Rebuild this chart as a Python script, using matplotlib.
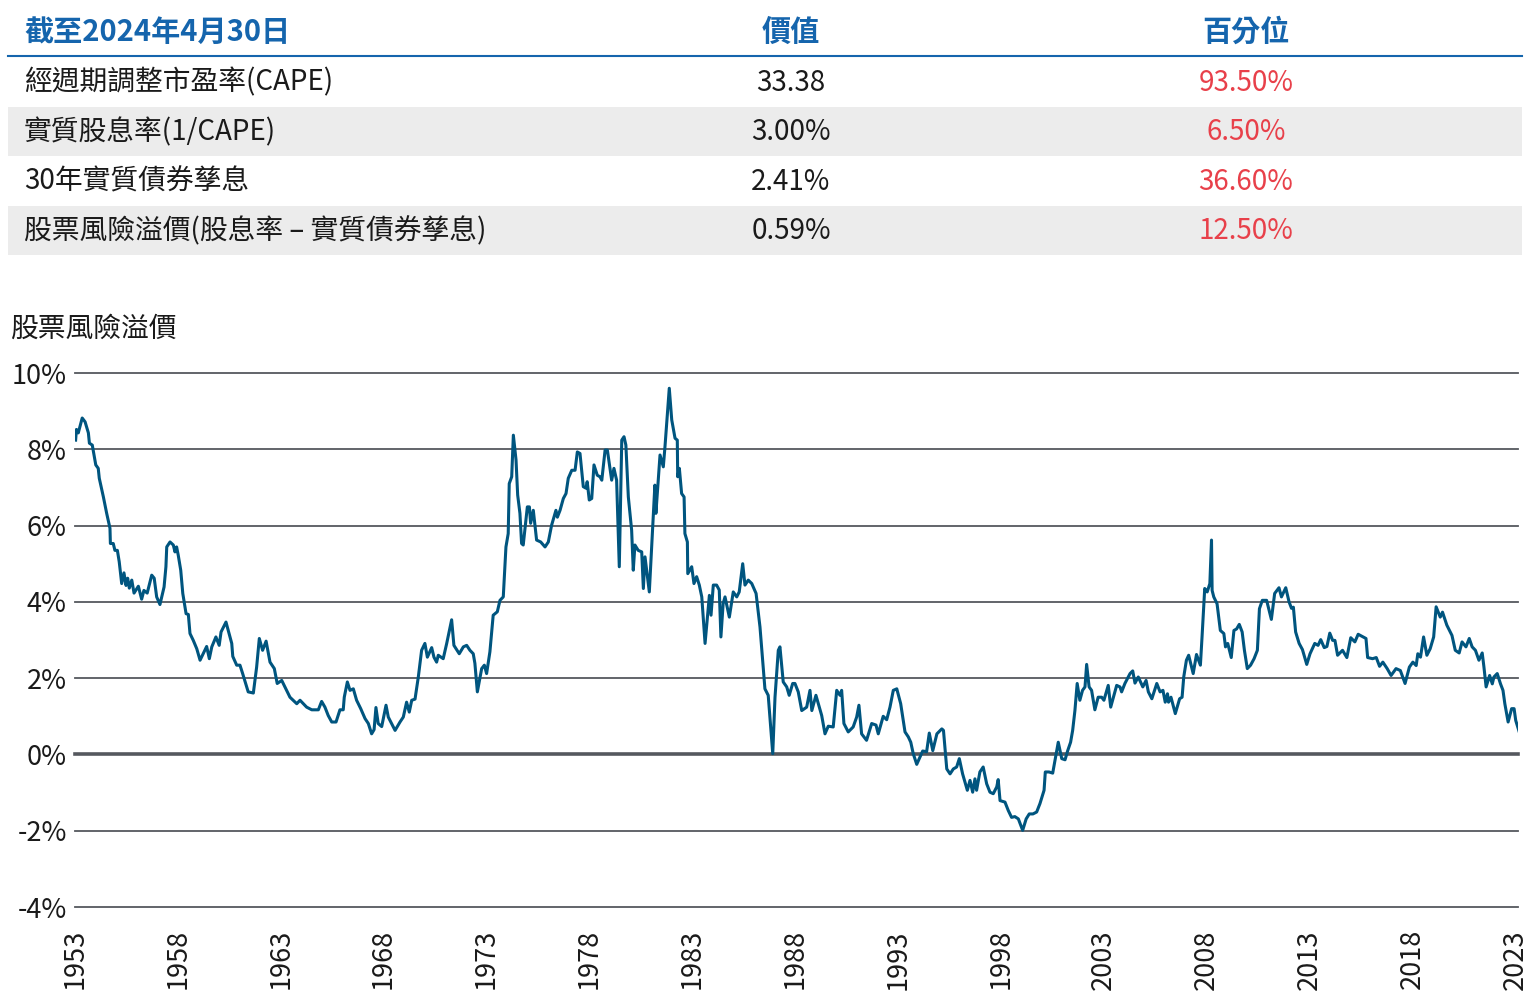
import matplotlib
matplotlib.use('Agg')
import matplotlib.pyplot as plt
from matplotlib.patches import Rectangle

plt.rcParams['font.family'] = ['Noto Sans CJK TC', 'DejaVu Sans']

# summary table
table_title = '截至2024年4月30日'
col_headers = ['價值', '百分位']
row_labels = ['經週期調整市盈率(CAPE)', '實質股息率(1/CAPE)', '30年實質債券孳息',
              '股票風險溢價(股息率 – 實質債券孳息)']
row_values = ['33.38', '3.00%', '2.41%', '0.59%']
row_pcts = ['93.50%', '6.50%', '36.60%', '12.50%']

# equity risk premium (%)
years = [1953.03, 1953.07, 1953.16, 1953.35, 1953.49, 1953.65, 1953.70, 1953.84, 1954.01, 1954.13,
         1954.18, 1954.38, 1954.54, 1954.70, 1954.72, 1954.86, 1954.94, 1955.06, 1955.15, 1955.27,
         1955.38, 1955.48, 1955.56, 1955.64, 1955.76, 1955.87, 1956.08, 1956.24, 1956.35, 1956.51,
         1956.73, 1956.85, 1956.97, 1957.13, 1957.33, 1957.42, 1957.46, 1957.62, 1957.78, 1957.86,
         1957.94, 1958.02, 1958.14, 1958.24, 1958.40, 1958.51, 1958.59, 1958.75, 1958.92, 1959.08,
         1959.40, 1959.53, 1959.65, 1959.85, 1960.01, 1960.10, 1960.34, 1960.62, 1960.67, 1960.86,
         1961.02, 1961.15, 1961.42, 1961.67, 1961.83, 1961.96, 1962.12, 1962.29, 1962.48, 1962.69,
         1962.83, 1963.05, 1963.45, 1963.78, 1963.94, 1964.26, 1964.51, 1964.83, 1964.99, 1965.15,
         1965.31, 1965.48, 1965.69, 1965.88, 1966.04, 1966.09, 1966.24, 1966.37, 1966.53, 1966.69,
         1966.89, 1967.10, 1967.26, 1967.42, 1967.54, 1967.63, 1967.74, 1967.91, 1968.12, 1968.23,
         1968.56, 1968.80, 1968.96, 1969.12, 1969.25, 1969.37, 1969.53, 1969.69, 1969.85, 1970.01,
         1970.13, 1970.34, 1970.45, 1970.58, 1970.66, 1970.90, 1971.07, 1971.31, 1971.42, 1971.68,
         1971.88, 1972.04, 1972.20, 1972.36, 1972.44, 1972.56, 1972.77, 1972.90, 1973.01, 1973.17,
         1973.33, 1973.53, 1973.66, 1973.82, 1973.95, 1974.06, 1974.11, 1974.23, 1974.31, 1974.44,
         1974.52, 1974.63, 1974.71, 1974.79, 1974.99, 1975.09, 1975.15, 1975.28, 1975.44, 1975.64,
         1975.85, 1976.01, 1976.17, 1976.38, 1976.45, 1976.58, 1976.74, 1976.87, 1976.98, 1977.15,
         1977.31, 1977.42, 1977.55, 1977.71, 1977.84, 1977.90, 1978.00, 1978.12, 1978.23, 1978.39,
         1978.52, 1978.61, 1978.77, 1978.88, 1979.09, 1979.20, 1979.33, 1979.46, 1979.58, 1979.69,
         1979.78, 1979.90, 1980.06, 1980.14, 1980.22, 1980.38, 1980.55, 1980.63, 1980.71, 1980.92,
         1981.19, 1981.24, 1981.44, 1981.60, 1981.68, 1981.89, 1982.01, 1982.17, 1982.28, 1982.30,
         1982.38, 1982.49, 1982.61, 1982.65, 1982.77, 1982.79, 1982.98, 1983.09, 1983.22, 1983.35,
         1983.47, 1983.63, 1983.84, 1983.92, 1984.03, 1984.19, 1984.32, 1984.40, 1984.51, 1984.60,
         1984.81, 1985.00, 1985.17, 1985.29, 1985.46, 1985.57, 1985.73, 1985.90, 1986.11, 1986.30,
         1986.54, 1986.70, 1986.92, 1987.03, 1987.19, 1987.27, 1987.43, 1987.60, 1987.72, 1987.89,
         1988.00, 1988.16, 1988.33, 1988.57, 1988.73, 1988.82, 1989.02, 1989.30, 1989.46, 1989.62,
         1989.86, 1990.03, 1990.19, 1990.27, 1990.38, 1990.59, 1990.83, 1991.00, 1991.11, 1991.24,
         1991.48, 1991.73, 1991.94, 1992.05, 1992.29, 1992.46, 1992.62, 1992.78, 1992.95, 1993.14,
         1993.35, 1993.51, 1993.63, 1993.75, 1993.92, 1994.08, 1994.21, 1994.40, 1994.53, 1994.70,
         1994.90, 1995.14, 1995.22, 1995.38, 1995.54, 1995.70, 1995.86, 1995.99, 1996.15, 1996.27,
         1996.38, 1996.51, 1996.64, 1996.75, 1996.83, 1996.99, 1997.15, 1997.32, 1997.48, 1997.64,
         1997.81, 1997.88, 1997.97, 1998.21, 1998.37, 1998.53, 1998.69, 1998.86, 1999.07, 1999.24,
         1999.39, 1999.57, 1999.75, 1999.91, 2000.11, 2000.17, 2000.35, 2000.53, 2000.64, 2000.80,
         2000.97, 2001.13, 2001.26, 2001.40, 2001.50, 2001.61, 2001.72, 2001.85, 2001.98, 2002.10,
         2002.18, 2002.30, 2002.42, 2002.58, 2002.74, 2002.91, 2003.02, 2003.23, 2003.35, 2003.48,
         2003.64, 2003.80, 2003.88, 2004.04, 2004.29, 2004.42, 2004.53, 2004.69, 2004.91, 2005.07,
         2005.18, 2005.35, 2005.59, 2005.75, 2005.89, 2006.00, 2006.11, 2006.16, 2006.28, 2006.49,
         2006.70, 2006.82, 2006.90, 2007.03, 2007.14, 2007.36, 2007.52, 2007.71, 2007.79, 2007.92,
         2008.04, 2008.17, 2008.25, 2008.28, 2008.36, 2008.52, 2008.68, 2008.85, 2008.93, 2009.04,
         2009.21, 2009.34, 2009.47, 2009.60, 2009.74, 2009.85, 2009.99, 2010.15, 2010.32, 2010.48,
         2010.58, 2010.72, 2010.93, 2011.16, 2011.32, 2011.53, 2011.65, 2011.86, 2012.02, 2012.14,
         2012.23, 2012.34, 2012.51, 2012.67, 2012.75, 2012.88, 2013.04, 2013.27, 2013.43, 2013.56,
         2013.73, 2013.86, 2014.00, 2014.14, 2014.25, 2014.38, 2014.62, 2014.83, 2015.02, 2015.22,
         2015.38, 2015.55, 2015.76, 2015.84, 2016.08, 2016.26, 2016.42, 2016.58, 2016.79, 2016.98,
         2017.22, 2017.43, 2017.66, 2017.87, 2018.04, 2018.20, 2018.28, 2018.41, 2018.56, 2018.72,
         2018.88, 2019.05, 2019.17, 2019.37, 2019.48, 2019.69, 2019.94, 2020.10, 2020.29, 2020.43,
         2020.62, 2020.78, 2020.92, 2021.08, 2021.25, 2021.41, 2021.49, 2021.60, 2021.77, 2021.90,
         2021.98, 2022.14, 2022.30, 2022.42, 2022.51, 2022.67, 2022.84, 2022.96, 2023.04, 2023.21]
erp = [8.24, 8.52, 8.43, 8.82, 8.72, 8.43, 8.16, 8.11, 7.59, 7.50,
       7.24, 6.75, 6.32, 5.93, 5.53, 5.53, 5.35, 5.35, 5.05, 4.48,
       4.76, 4.43, 4.62, 4.36, 4.57, 4.23, 4.41, 4.07, 4.30, 4.23,
       4.70, 4.62, 4.13, 3.93, 4.39, 4.92, 5.44, 5.57, 5.49, 5.31,
       5.44, 5.22, 4.83, 4.22, 3.69, 3.67, 3.17, 2.99, 2.77, 2.47,
       2.83, 2.51, 2.82, 3.08, 2.86, 3.21, 3.47, 2.91, 2.57, 2.34,
       2.34, 2.12, 1.64, 1.61, 2.29, 3.04, 2.73, 2.97, 2.42, 2.25,
       1.86, 1.94, 1.50, 1.33, 1.42, 1.24, 1.17, 1.17, 1.39, 1.24,
       1.02, 0.85, 0.85, 1.17, 1.17, 1.50, 1.90, 1.68, 1.72, 1.42,
       1.20, 0.94, 0.81, 0.54, 0.65, 1.23, 0.81, 0.73, 1.29, 0.98,
       0.63, 0.85, 0.98, 1.37, 1.11, 1.42, 1.45, 2.03, 2.73, 2.91,
       2.55, 2.80, 2.55, 2.42, 2.60, 2.51, 2.91, 3.53, 2.86, 2.64,
       2.82, 2.86, 2.73, 2.64, 2.39, 1.64, 2.25, 2.34, 2.12, 2.69,
       3.65, 3.74, 4.04, 4.13, 5.44, 5.79, 7.10, 7.28, 8.37, 7.72,
       6.80, 6.32, 5.53, 5.49, 6.49, 6.49, 6.06, 6.40, 5.62, 5.57,
       5.44, 5.57, 6.01, 6.40, 6.22, 6.40, 6.71, 6.84, 7.24, 7.45,
       7.45, 7.93, 7.89, 7.02, 6.98, 7.15, 6.67, 6.71, 7.59, 7.32,
       7.28, 7.19, 7.98, 7.98, 7.19, 7.50, 7.19, 4.92, 8.24, 8.33,
       8.11, 6.75, 5.88, 4.83, 5.49, 5.35, 5.31, 4.35, 5.18, 4.26,
       7.06, 6.32, 7.85, 7.54, 8.06, 9.60, 8.77, 8.29, 8.24, 7.28,
       7.50, 6.84, 6.75, 5.79, 5.57, 4.74, 4.92, 4.48, 4.66, 4.44,
       4.13, 2.91, 4.17, 3.65, 4.44, 4.44, 4.31, 3.08, 3.96, 4.13,
       3.60, 4.26, 4.13, 4.26, 5.00, 4.44, 4.57, 4.48, 4.22, 3.34,
       1.72, 1.55, 0.02, 1.50, 2.73, 2.82, 1.90, 1.77, 1.55, 1.86,
       1.86, 1.64, 1.15, 1.24, 1.68, 1.15, 1.55, 1.02, 0.54, 0.74,
       0.72, 1.68, 1.55, 1.68, 0.81, 0.59, 0.72, 0.98, 1.29, 0.54,
       0.37, 0.81, 0.77, 0.54, 1.00, 0.91, 1.24, 1.68, 1.72, 1.33,
       0.59, 0.46, 0.32, 0.02, -0.26, -0.07, 0.09, 0.07, 0.56, 0.10,
       0.54, 0.67, 0.63, -0.38, -0.51, -0.38, -0.33, -0.11, -0.51, -0.73,
       -0.94, -0.68, -0.99, -0.64, -0.94, -0.46, -0.33, -0.77, -0.99, -1.03,
       -0.85, -0.66, -1.21, -1.25, -1.47, -1.65, -1.63, -1.69, -1.99, -1.69,
       -1.56, -1.56, -1.51, -1.29, -0.94, -0.46, -0.46, -0.49, -0.16, 0.32,
       -0.11, -0.14, 0.10, 0.32, 0.63, 1.15, 1.86, 1.42, 1.68, 1.77,
       2.36, 1.77, 1.68, 1.17, 1.50, 1.50, 1.42, 1.81, 1.24, 1.50,
       1.81, 1.77, 1.64, 1.86, 2.12, 2.19, 1.87, 2.03, 1.77, 1.94,
       1.64, 1.46, 1.86, 1.64, 1.68, 1.37, 1.59, 1.37, 1.50, 1.07,
       1.46, 1.50, 2.03, 2.47, 2.60, 2.12, 2.62, 2.34, 3.08, 4.35,
       4.26, 4.48, 5.62, 4.30, 4.13, 3.95, 3.25, 3.17, 2.82, 2.91,
       2.54, 3.25, 3.29, 3.41, 3.21, 2.73, 2.25, 2.34, 2.51, 2.73,
       3.82, 4.04, 4.04, 3.54, 4.22, 4.37, 4.13, 4.37, 4.00, 3.83,
       3.86, 3.21, 2.91, 2.75, 2.60, 2.36, 2.64, 2.91, 2.86, 3.01,
       2.80, 2.83, 3.18, 2.99, 2.99, 2.60, 2.73, 2.54, 3.06, 2.95,
       3.15, 3.10, 3.04, 2.54, 2.51, 2.54, 2.31, 2.42, 2.25, 2.07,
       2.25, 2.20, 1.86, 2.29, 2.42, 2.33, 2.64, 2.55, 3.08, 2.60,
       2.77, 3.08, 3.87, 3.60, 3.73, 3.39, 3.12, 2.73, 2.66, 2.95,
       2.82, 3.04, 2.82, 2.73, 2.47, 2.66, 2.31, 1.77, 2.07, 1.85,
       2.03, 2.12, 1.85, 1.68, 1.33, 0.85, 1.20, 1.20, 0.89, 0.59]

chart_title = '股票風險溢價'
y_ticks = [-4, -2, 0, 2, 4, 6, 8, 10]
x_ticks = list(range(1953, 2024, 5))

W, H = 1532, 1000
fig = plt.figure(figsize=(W / 100, H / 100), dpi=100)

blue = '#1565ad'
red = '#e8404a'
text_col = '#1a1a1a'

# table
row_h = 49.5
top = 57
for i in range(len(row_labels)):
    y0 = top + i * row_h
    if i % 2 == 1:
        fig.add_artist(Rectangle((8 / W, 1 - (y0 + row_h) / H), (1522 - 8) / W, row_h / H,
                                 transform=fig.transFigure, color='#ececec', lw=0, zorder=0))
    yc = 1 - (y0 + row_h / 2 + 1) / H
    fig.text(24 / W, yc, row_labels[i], fontsize=20, color=text_col, va='center', ha='left')
    fig.text(791 / W, yc, row_values[i], fontsize=20, color=text_col, va='center', ha='center')
    fig.text(1246 / W, yc, row_pcts[i], fontsize=20, color=red, va='center', ha='center')

hy = 1 - 32 / H
fig.text(24 / W, hy, table_title, fontsize=21, color=blue, fontweight='bold', va='center', ha='left')
fig.text(791 / W, hy, col_headers[0], fontsize=21, color=blue, fontweight='bold', va='center', ha='center')
fig.text(1246 / W, hy, col_headers[1], fontsize=21, color=blue, fontweight='bold', va='center', ha='center')
fig.add_artist(plt.Line2D([8 / W, 1522 / W], [1 - 56 / H, 1 - 56 / H], transform=fig.transFigure,
                          color=blue, lw=1.5))

# line chart
fig.text(10 / W, 1 - 329 / H, chart_title, fontsize=20, color=text_col, va='center', ha='left')

ax = fig.add_axes([75 / W, 93 / H, (1518 - 75) / W, (907 - 373) / H])
for y in y_ticks:
    ax.axhline(y, color='#55585e', lw=2.6 if y == 0 else 1.3, zorder=1, clip_on=False)
ax.plot(years, erp, color='#00557f', lw=2.2, zorder=3)

ax.set_xlim(1953, 2023.15)
ax.set_ylim(-4, 10)
ax.set_yticks(y_ticks)
ax.set_yticklabels([f'{v}%' for v in y_ticks], fontsize=19.5, color=text_col)
ax.set_xticks(x_ticks)
ax.set_xticklabels([str(v) for v in x_ticks], fontsize=19.5, color=text_col, rotation=90)
ax.tick_params(axis='both', length=0)
ax.tick_params(axis='y', pad=6)
ax.tick_params(axis='x', pad=16)
for s in ax.spines.values():
    s.set_visible(False)

fig.savefig('out.png', dpi=100)
